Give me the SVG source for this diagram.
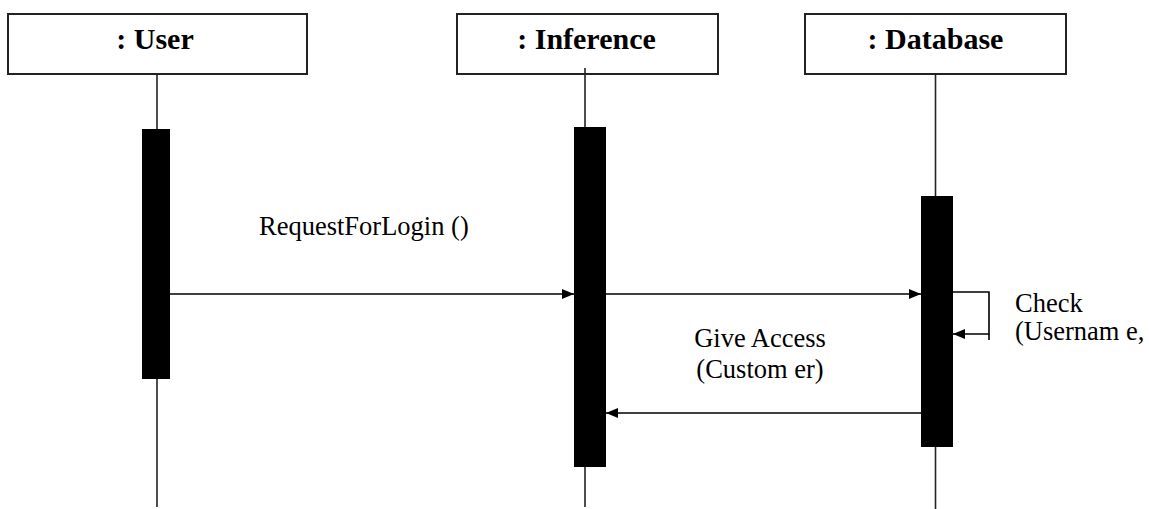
<svg xmlns="http://www.w3.org/2000/svg" width="1149" height="509" viewBox="0 0 1149 509">
<style>
.box{fill:#fff;stroke:#222;stroke-width:2}
.life{stroke:#222;stroke-width:1.6;fill:none}
.bar{fill:#000}
.title{font-family:"Liberation Serif","Times New Roman",serif;font-weight:bold;font-size:30px;fill:#000;text-anchor:middle}
.lbl{font-family:"Liberation Serif","Times New Roman",serif;font-size:26.5px;fill:#000}
.msg{stroke:#000;stroke-width:1.6;fill:none}
</style>
<defs>
<marker id="ah" viewBox="0 0 12 10" refX="12" refY="5" markerWidth="12" markerHeight="10" markerUnits="userSpaceOnUse" orient="auto">
<path d="M0,0 L12,5 L0,10 Z" fill="#000"/>
</marker>
</defs>
<g id="user">
<rect class="box" x="8" y="14" width="299" height="60"/>
<text class="title" x="155" y="49">: User</text>
<line class="life" x1="157" y1="74" x2="157" y2="507"/>
<rect class="bar" x="142" y="129" width="28" height="250"/>
</g>
<g id="inference">
<rect class="box" x="457" y="14" width="261" height="60"/>
<text class="title" x="586.5" y="49">: Inference</text>
<line class="life" x1="585" y1="68" x2="585" y2="507"/>
<rect class="bar" x="574" y="127" width="32" height="340"/>
</g>
<g id="database">
<rect class="box" x="805" y="14" width="261" height="60"/>
<text class="title" x="935.5" y="49">: Database</text>
<line class="life" x1="935.5" y1="74" x2="935.5" y2="509"/>
<rect class="bar" x="921" y="196" width="32" height="251"/>
</g>
<g id="connectors">
<line class="msg" x1="170" y1="294" x2="574" y2="294" marker-end="url(#ah)"/>
<line class="msg" x1="606" y1="294" x2="921" y2="294" marker-end="url(#ah)"/>
<polyline class="msg" points="953,292 989,292 989,334 953,334" marker-end="url(#ah)"/>
<line class="msg" x1="989" y1="334" x2="989" y2="340"/>
<line class="msg" x1="921" y1="413" x2="606" y2="413" marker-end="url(#ah)"/>
<text class="lbl" x="259" y="235">RequestForLogin ()</text>
<text class="lbl" x="760" y="347" text-anchor="middle">Give Access</text>
<text class="lbl" x="760" y="378" text-anchor="middle">(Custom er)</text>
<text class="lbl" x="1015" y="312">Check</text>
<text class="lbl" x="1015" y="340">(Usernam e,</text>
</g>
</svg>
